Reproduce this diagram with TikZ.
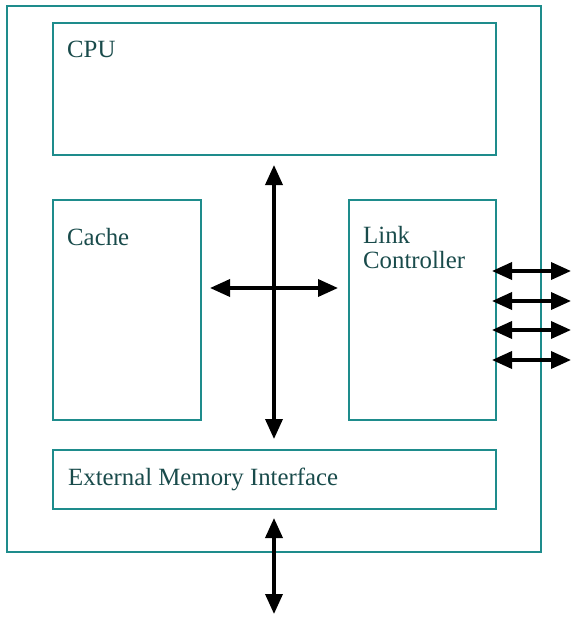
\documentclass[tikz,border=0pt]{standalone}
\usepackage{fontspec}
\setmainfont{Liberation Serif}
\usetikzlibrary{arrows.meta}
\definecolor{boxline}{RGB}{30,140,140}
\definecolor{boxtext}{RGB}{25,75,75}
\begin{document}
\begin{tikzpicture}[x=1pt,y=-1pt,
  blk/.style={draw=boxline,line width=1.5pt,inner sep=0pt},
  lbl/.style={anchor=base west,inner sep=0pt,text=boxtext,font=\fontsize{24.8}{26}\selectfont},
  bus/.style={line width=3.5pt,black,{Triangle[length=20pt,width=17pt]}-{Triangle[length=20pt,width=17pt]}}]
\useasboundingbox (0,0) rectangle (571,619);
\draw[blk] (7,6) rectangle (541,552);
\node[blk,minimum width=443pt,minimum height=132pt,anchor=north west] (cpu) at (52,22) {};
\node[blk,minimum width=148pt,minimum height=220pt,anchor=north west] (cache) at (52,199) {};
\node[blk,minimum width=147pt,minimum height=220pt,anchor=north west] (link) at (348,199) {};
\node[blk,minimum width=443pt,minimum height=59pt,anchor=north west] (emi) at (52,449) {};
\node[lbl] (tcpu) at (67,57) {CPU};
\node[lbl] (tcache) at (67,245) {Cache};
\node[lbl] (tlink) at (363,243) {Link};
\node[lbl] (tctrl) at (363,268) {Controller};
\node[lbl] (temi) at (68,485) {External Memory Interface};
\coordinate (vt) at (274,165);
\coordinate (vb) at (274,439);
\coordinate (hl) at (210,288);
\coordinate (hr) at (338,288);
\coordinate (bt) at (274,518);
\coordinate (bb) at (274,614);
\draw[bus] (vt) -- (vb);
\draw[bus] (hl) -- (hr);
\draw[bus] (bt) -- (bb);
\foreach \y/\n in {271/a,301/b,330/c,360/d}{
  \coordinate (l\n) at (492,\y);
  \coordinate (r\n) at (571,\y);
  \draw[bus] (l\n) -- (r\n);
}
\end{tikzpicture}
\end{document}
